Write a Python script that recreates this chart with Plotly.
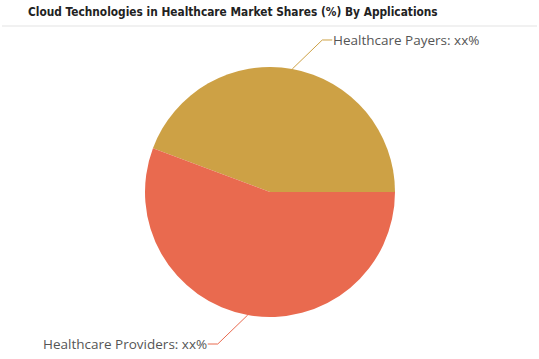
import math
import plotly.graph_objects as go

labels = ["Healthcare Payers", "Healthcare Providers"]
values = [44.3, 55.7]
label_texts = ["Healthcare Payers: xx%", "Healthcare Providers: xx%"]
colors = ["#CDA145", "#E96A4F"]

W, H = 539, 359
cx, cy, R = 270, 192, 125

total = sum(values)
first_deg = values[0] / total * 360

fig = go.Figure(go.Pie(
    labels=labels, values=values, sort=False, direction="counterclockwise",
    rotation=90 - first_deg, marker=dict(colors=colors, line=dict(width=0)),
    textinfo="none", hoverinfo="label+percent",
    domain=dict(x=[(cx - R) / W, (cx + R) / W], y=[(H - cy - R) / H, (H - cy + R) / H]),
))

def px(x):
    return x / W

def py(y):
    return 1 - y / H

shapes = [dict(type="line", xref="paper", yref="paper", x0=px(2), x1=px(537), y0=py(26), y1=py(26),
               line=dict(color="#e3e3e3", width=1))]
annotations = []
start = 0.0
for lab, v, col in zip(label_texts, values, colors):
    mid = start + v / total * 360 / 2
    start += v / total * 360
    a = math.radians(mid)
    x0, y0 = cx + R * math.cos(a), cy - R * math.sin(a)
    side = 1 if math.cos(a) >= 0 else -1
    vy = -1 if math.sin(a) > 0 else 1
    x1, y1 = x0 + side * 30, y0 + vy * 29
    x2 = x1 + side * 10
    shapes.append(dict(type="path", xref="paper", yref="paper",
                       path=f"M {px(x0)} {py(y0)} L {px(x1)} {py(y1)} L {px(x2)} {py(y1)}",
                       line=dict(color=col, width=1)))
    annotations.append(dict(text=lab, xref="paper", yref="paper", x=px(x2 - side * 1.5), y=py(y1),
                            xanchor="left" if side > 0 else "right", yanchor="middle",
                            showarrow=False, font=dict(family="Open Sans", size=13.5, color="#555555")))

annotations.append(dict(text="Cloud Technologies in Healthcare Market Shares (%) By Applications",
                        xref="paper", yref="paper", x=px(26), y=py(12), xanchor="left", yanchor="middle",
                        showarrow=False,
                        font=dict(family="DejaVu Sans Condensed", size=11.8, color="#222222", weight="bold")))

fig.update_layout(width=W, height=H, margin=dict(l=0, r=0, t=0, b=0), showlegend=False,
                  paper_bgcolor="white", shapes=shapes, annotations=annotations)
fig.write_html("out.html")
